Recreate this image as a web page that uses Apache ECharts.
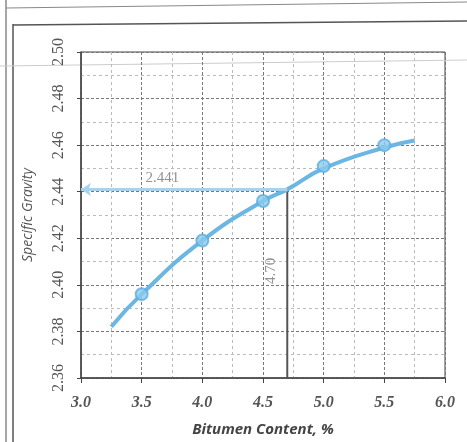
<!DOCTYPE html>
<html>
<head>
<meta charset="utf-8">
<script src="https://cdn.jsdelivr.net/npm/echarts@6/dist/echarts.min.js"></script>
<style>
  html, body { margin: 0; padding: 0; background: #fff; }
  #chart { width: 467px; height: 442px; }
</style>
</head>
<body>
<div id="chart"></div>
<script>
// measured points
var bitumen = [3.5, 4.0, 4.5, 5.0, 5.5];
var gravity = [2.396, 2.419, 2.436, 2.451, 2.460];
// fitted curve
var fitX = [3.25, 3.5, 4.0, 4.5, 4.7, 5.0, 5.5, 5.75];
var fitY = [2.382, 2.396, 2.419, 2.436, 2.441, 2.450, 2.459, 2.462];
// optimum reading
var optContent = 4.70;
var optGravity = 2.441;

var chart = echarts.init(document.getElementById('chart'));

var serif = 'Liberation Serif';
var gridDash = { color: '#777', type: [3, 2], width: 1 };
var minorDash = { color: '#bbb', type: [3, 3], width: 1 };

chart.setOption({
  animation: false,
  grid: { left: 81, top: 52, right: 22, bottom: 62, show: true, borderColor: '#444', borderWidth: 1 },
  graphic: [
    { type: 'line', shape: { x1: 6, y1: 0, x2: 6, y2: 442 }, style: { stroke: '#888', lineWidth: 1.5 } },
    { type: 'line', shape: { x1: 13, y1: 24, x2: 13, y2: 442 }, style: { stroke: '#555', lineWidth: 1.5 } },
    { type: 'line', shape: { x1: 6, y1: 8, x2: 467, y2: 2 }, style: { stroke: '#888', lineWidth: 1 } },
    { type: 'line', shape: { x1: 13, y1: 25, x2: 467, y2: 21 }, style: { stroke: '#555', lineWidth: 1.5 } },
    { type: 'line', shape: { x1: 0, y1: 66, x2: 467, y2: 60 }, style: { stroke: '#ccc', lineWidth: 1 } }
  ],
  xAxis: {
    type: 'value', min: 3.0, max: 6.0, interval: 0.5,
    name: 'Bitumen Content, %', nameLocation: 'middle', nameGap: 44,
    nameTextStyle: { fontFamily: 'Open Sans', fontStyle: 'italic', fontWeight: 'bold', fontSize: 15, color: '#444' },
    axisLine: { lineStyle: { color: '#444', width: 1.5 } },
    axisTick: { show: true, length: 5, lineStyle: { color: '#444' } },
    axisLabel: {
      margin: 17, fontFamily: serif, fontStyle: 'italic', fontWeight: 'bold', fontSize: 16, color: '#555',
      formatter: function (v) { return v.toFixed(1); }
    },
    splitLine: { show: true, lineStyle: gridDash },
    minorTick: { show: false, splitNumber: 2 },
    minorSplitLine: { show: true, lineStyle: minorDash }
  },
  yAxis: {
    type: 'value', min: 2.36, max: 2.50, interval: 0.02,
    name: 'Specific Gravity', nameLocation: 'middle', nameGap: 46,
    nameTextStyle: { fontFamily: 'Open Sans', fontStyle: 'italic', fontSize: 14, color: '#555' },
    axisLine: { show: true, lineStyle: { color: '#444', width: 1.5 } },
    axisTick: { show: true, length: 4, lineStyle: { color: '#444' } },
    axisLabel: {
      rotate: 90, margin: 14, fontFamily: serif, fontSize: 16, color: '#555',
      formatter: function (v) { return v.toFixed(2); }
    },
    splitLine: { show: true, lineStyle: gridDash },
    minorTick: { show: false, splitNumber: 2 },
    minorSplitLine: { show: true, lineStyle: minorDash }
  },
  series: [
    {
      type: 'line', name: 'fit',
      data: fitX.map(function (x, i) { return [x, fitY[i]]; }),
      smooth: true, showSymbol: false,
      lineStyle: { color: '#6cb6e4', width: 4 },
      z: 3
    },
    {
      type: 'scatter', name: 'points',
      data: bitumen.map(function (x, i) { return [x, gravity[i]]; }),
      symbolSize: 12,
      itemStyle: { color: '#8ccaee', borderColor: '#5aaee0', borderWidth: 2 },
      z: 4
    },
    {
      type: 'line', name: 'optimum',
      data: [[optContent, 2.36], [optContent, optGravity]],
      showSymbol: false,
      lineStyle: { color: '#555', width: 2 },
      z: 2,
      markLine: {
        silent: true,
        symbol: ['none', 'arrow'], symbolSize: 10,
        lineStyle: { color: '#a9d2ec', width: 3, type: 'solid' },
        label: { show: false },
        data: [[{ coord: [optContent, optGravity] }, { coord: [3.0, optGravity] }]]
      }
    },
    {
      type: 'scatter', name: 'labels', symbolSize: 0,
      data: [
        { value: [3.67, optGravity], label: { show: true, position: 'top', distance: 4, formatter: '2.441', fontFamily: serif, fontSize: 15, color: '#777' } },
        { value: [4.57, 2.406], label: { show: true, position: 'inside', rotate: 90, formatter: '4.70', fontFamily: serif, fontSize: 15, color: '#777' } }
      ],
      z: 5
    }
  ]
});
</script>
</body>
</html>
